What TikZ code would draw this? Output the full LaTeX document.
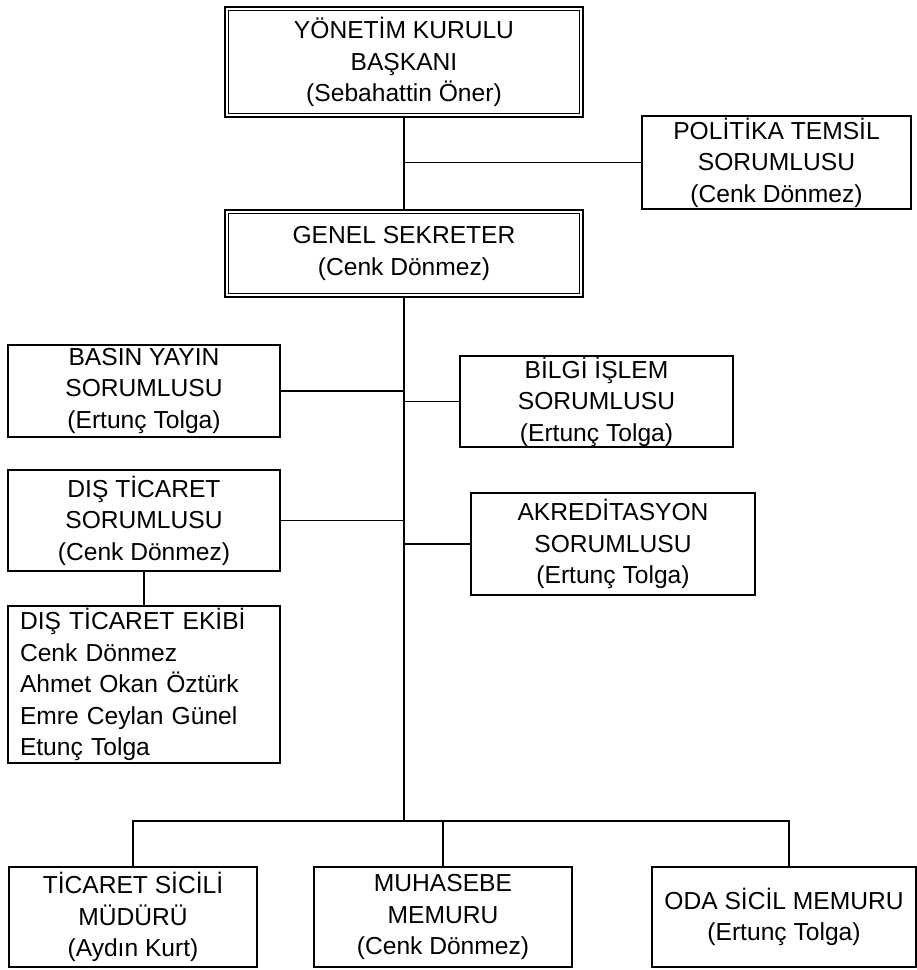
\documentclass[tikz,border=0pt]{standalone}
\usepackage{fontspec}
\setmainfont{Liberation Sans}
\begin{document}
\begin{tikzpicture}[x=1pt,y=-1pt,
  every node/.style={font=\fontsize{24.6}{31.5}\selectfont, inner sep=0pt},
  box/.style={draw=black, line width=1.5pt, rectangle, align=center},
  dbox/.style={draw=black, double=white, line width=1.2pt, double distance=2.6pt, rectangle, align=center},
  conn/.style={draw=black, line width=1.6pt}]
\useasboundingbox (0,0) rectangle (917,970);
\node[dbox, minimum width=354.2pt, minimum height=106.2pt] (top) at (404,62) {YÖNETİM KURULU\\BAŞKANI\\(Sebahattin Öner)};
\node[box, minimum width=269pt, minimum height=93pt] (pol) at (776.5,162.5) {POLİTİKA TEMSİL\\SORUMLUSU\\(Cenk Dönmez)};
\node[dbox, minimum width=354.2pt, minimum height=83.2pt] (gen) at (404,253.5) {GENEL SEKRETER\\(Cenk Dönmez)};
\node[box, minimum width=272pt, minimum height=92pt] (basin) at (144,391) {BASIN YAYIN\\SORUMLUSU\\(Ertunç Tolga)};
\node[box, minimum width=273pt, minimum height=91pt] (bilgi) at (596.5,401.5) {BİLGİ İŞLEM\\SORUMLUSU\\(Ertunç Tolga)};
\node[box, minimum width=272pt, minimum height=101pt] (dis) at (144,520.5) {DIŞ TİCARET\\SORUMLUSU\\(Cenk Dönmez)};
\node[box, minimum width=284pt, minimum height=102pt] (akr) at (613,544) {AKREDİTASYON\\SORUMLUSU\\(Ertunç Tolga)};
\node[box, align=left, text width=248pt, inner xsep=12pt, minimum height=157pt] (ekip) at (144,684.5) {DIŞ TİCARET EKİBİ\\Cenk Dönmez\\Ahmet Okan Öztürk\\Emre Ceylan Günel\\Etunç Tolga};
\node[box, minimum width=248pt, minimum height=100pt] (tic) at (133,917) {TİCARET SİCİLİ\\MÜDÜRÜ\\(Aydın Kurt)};
\node[box, minimum width=258pt, minimum height=100pt] (muh) at (443,917) {MUHASEBE\\MEMURU\\(Cenk Dönmez)};
\node[box, minimum width=264pt, minimum height=100pt] (oda) at (784,917) {ODA SİCİL MEMURU\\(Ertunç Tolga)};
\coordinate (bus) at (404,821);
\draw[conn] (top.south) -- (gen.north);
\draw[conn] (pol.west) -- (pol.west -| top.south);
\draw[conn] (gen.south) -- (bus);
\draw[conn] (basin.east) -- (basin.east -| gen.south);
\draw[conn] (bilgi.west) -- (bilgi.west -| gen.south);
\draw[conn] (dis.east) -- (dis.east -| gen.south);
\draw[conn] (akr.west) -- (akr.west -| gen.south);
\draw[conn] (dis.south) -- (ekip.north);
\draw[conn] (tic.north) |- ([xshift=5pt]oda.north |- bus) -- ([xshift=5pt]oda.north);
\draw[conn] (muh.north) -- (muh.north |- bus);
\end{tikzpicture}
\end{document}
